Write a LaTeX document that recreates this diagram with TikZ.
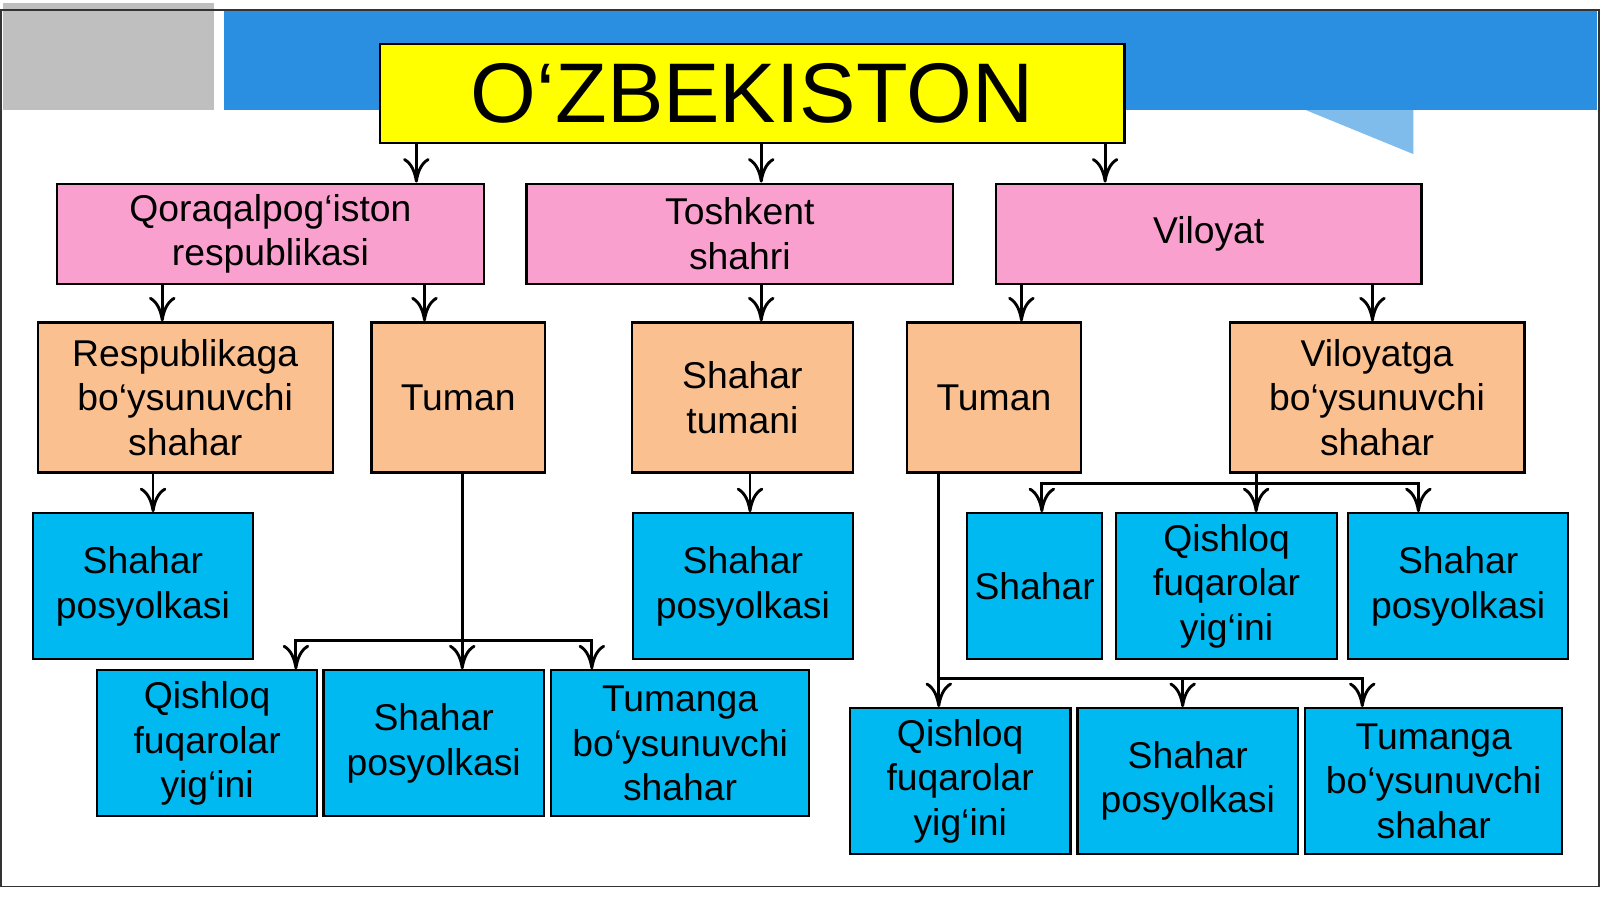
\documentclass[tikz,border=0pt]{standalone}
\usepackage{fontspec}
\setmainfont{Liberation Sans}
\usetikzlibrary{calc,arrows.meta}
\definecolor{ttl}{HTML}{FFFF00}
\definecolor{pnk}{HTML}{F9A0CE}
\definecolor{org}{HTML}{FAC090}
\definecolor{cyn}{HTML}{00B9F1}
\definecolor{band}{HTML}{2A8FE0}
\tikzset{box/.style={draw, line width=0.6pt, align=center, inner sep=0pt, font=\fontsize{10.4}{12.4}\selectfont},
  arr/.style={-{To[length=2.4mm,width=2.6mm]}, line width=0.8pt}}
\begin{document}
\begin{tikzpicture}
\useasboundingbox (0,0) rectangle (15.68,8.81);
% background
\fill[white] (0,0) rectangle (15.68,8.81);
\fill[black!25] (0.03,7.73) rectangle (2.1,8.78);
\fill[band] (2.2,7.73) rectangle (15.65,8.71);
\fill[band!60] (12.8,7.73) -- (13.85,7.73) -- (13.85,7.3) -- cycle;
\draw[black!80] (0.01,0.12) rectangle (15.67,8.71);
\begin{scope}[yshift=-0.18cm]
% title
\node (t) [box, fill=ttl, minimum width=7.30cm, minimum height=0.97cm, font=\fontsize{23.6}{28}\selectfont] at (7.37,8.075) {O‘ZBEKISTON};
% level 1
\node (q) [box, fill=pnk, minimum width=4.18cm, minimum height=0.98cm] at (2.65,6.70) {Qoraqalpog‘iston\\respublikasi};
\node (ts) [box, fill=pnk, minimum width=4.18cm, minimum height=0.98cm] at (7.25,6.70) {Toshkent\\shahri};
\node (v) [box, fill=pnk, minimum width=4.17cm, minimum height=0.98cm] at (11.845,6.70) {Viloyat};
% level 2
\node (r) [box, fill=org, minimum width=2.89cm, minimum height=1.47cm] at (1.815,5.095) {Respublikaga\\bo‘ysunuvchi\\shahar};
\node (tu) [box, fill=org, minimum width=1.70cm, minimum height=1.47cm] at (4.49,5.095) {Tuman};
\node (sht) [box, fill=org, minimum width=2.17cm, minimum height=1.47cm] at (7.275,5.095) {Shahar\\tumani};
\node (tv) [box, fill=org, minimum width=1.70cm, minimum height=1.47cm] at (9.74,5.095) {Tuman};
\node (vb) [box, fill=org, minimum width=2.89cm, minimum height=1.47cm] at (13.495,5.095) {Viloyatga\\bo‘ysunuvchi\\shahar};
% level 3
\node (sp1) [box, fill=cyn, minimum width=2.16cm, minimum height=1.43cm] at (1.40,3.245) {Shahar\\posyolkasi};
\node (sp2) [box, fill=cyn, minimum width=2.16cm, minimum height=1.43cm] at (7.28,3.245) {Shahar\\posyolkasi};
\node (sh) [box, fill=cyn, minimum width=1.32cm, minimum height=1.43cm] at (10.14,3.245) {Shahar};
\node (qv) [box, fill=cyn, minimum width=2.16cm, minimum height=1.43cm] at (12.02,3.245) {Qishloq\\fuqarolar\\yig‘ini};
\node (sp3) [box, fill=cyn, minimum width=2.16cm, minimum height=1.43cm] at (14.29,3.245) {Shahar\\posyolkasi};
% level 4 left
\node (qa) [box, fill=cyn, minimum width=2.16cm, minimum height=1.43cm] at (2.03,1.705) {Qishloq\\fuqarolar\\yig‘ini};
\node (spa) [box, fill=cyn, minimum width=2.16cm, minimum height=1.43cm] at (4.25,1.705) {Shahar\\posyolkasi};
\node (tba) [box, fill=cyn, minimum width=2.53cm, minimum height=1.43cm] at (6.665,1.705) {Tumanga\\bo‘ysunuvchi\\shahar};
% level 4 right
\node (qb) [box, fill=cyn, minimum width=2.16cm, minimum height=1.43cm] at (9.41,1.335) {Qishloq\\fuqarolar\\yig‘ini};
\node (spb) [box, fill=cyn, minimum width=2.16cm, minimum height=1.43cm] at (11.64,1.335) {Shahar\\posyolkasi};
\node (tbb) [box, fill=cyn, minimum width=2.52cm, minimum height=1.43cm] at (14.05,1.335) {Tumanga\\bo‘ysunuvchi\\shahar};
% arrows
\draw [arr] (t.south -| 4.08,0) -- (q.north -| 4.08,0);
\draw [arr] (t.south -| 7.46,0) -- (ts.north -| 7.46,0);
\draw [arr] (t.south -| 10.83,0) -- (v.north -| 10.83,0);
\draw [arr] (q.south -| 1.59,0) -- (r.north -| 1.59,0);
\draw [arr] (q.south -| 4.16,0) -- (tu.north -| 4.16,0);
\draw [arr] (ts.south -| 7.46,0) -- (sht.north -| 7.46,0);
\draw [arr] (v.south -| 10.01,0) -- (tv.north -| 10.01,0);
\draw [arr] (v.south -| 13.45,0) -- (vb.north -| 13.45,0);
\draw [arr] (r.south -| 1.50,0) -- (sp1.north -| 1.50,0);
\draw [arr] (sht.south -| 7.35,0) -- (sp2.north -| 7.35,0);
% left bus
\coordinate (lb) at (4.53,2.71);
\draw [arr] (tu.south -| lb) -- (spa.north -| lb);
\draw [arr] (lb) -| ($(qa.north)+(0.87,0)$);
\draw [arr] (lb) -| ($(tba.north)+(-0.865,0)$);
% viloyatga bus
\coordinate (vbb) at (12.31,4.25);
\draw [line width=0.8pt] (vb.south -| vbb) -- (vbb);
\draw [arr] (vbb) -- (qv.north -| vbb);
\draw [arr] (vbb) -| ($(sh.north)+(0.07,0)$);
\draw [arr] (vbb) -| ($(sp3.north)+(-0.39,0)$);
% right bus
\coordinate (rb) at (9.20,2.34);
\draw [arr] (tv.south -| rb) -- (qb.north -| rb);
\draw [arr] (rb) -| ($(spb.north)+(-0.05,0)$);
\draw [arr] (rb) -| ($(tbb.north)+(-0.70,0)$);
\end{scope}
\end{tikzpicture}
\end{document}
